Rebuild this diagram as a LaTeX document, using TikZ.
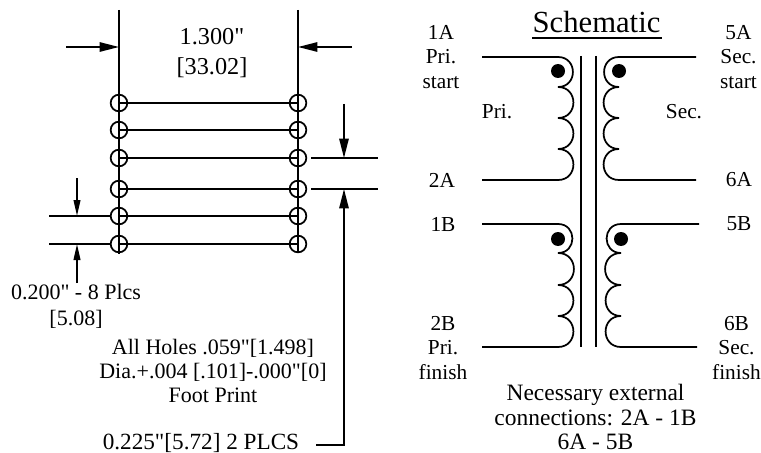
\documentclass[tikz,border=0pt]{standalone}
\usepackage{fontspec}
\setmainfont{Liberation Serif}[Ligatures=TeXOff]
\usetikzlibrary{arrows.meta}

\begin{document}
\begin{tikzpicture}[x=0.75pt, y=-0.75pt, line width=1.3pt,
    every node/.style={inner sep=0pt, align=center, font=\fontsize{16}{18.4}\selectfont},
    hole/.style={draw, circle, minimum size=12.5pt},
    dimlabel/.style={font=\fontsize{18.2}{22.5}\selectfont},
    notelabel/.style={font=\fontsize{16.5}{17.8}\selectfont},
    bump/.style={out=0, in=0, looseness=1.7},
    bumpleft/.style={out=180, in=180, looseness=1.7},
    bigdim/.style={-{Triangle[length=14.5pt, width=7pt]}},
    smalldim/.style={-{Triangle[length=12pt, width=5pt]}}]
    \useasboundingbox (0,0) rectangle (761,453);

    % Foot print holes
    \node[hole] (L1) at (119,103) {};
    \node[hole] (L2) at (119,130) {};
    \node[hole] (L3) at (119,158) {};
    \node[hole] (L4) at (119,189) {};
    \node[hole] (L5) at (119,216) {};
    \node[hole] (L6) at (119,244) {};
    \node[hole] (R1) at (298,103) {};
    \node[hole] (R2) at (298,130) {};
    \node[hole] (R3) at (298,158) {};
    \node[hole] (R4) at (298,189) {};
    \node[hole] (R5) at (298,216) {};
    \node[hole] (R6) at (298,244) {};

    % Hole rows
    \draw (L1.center) -- (R1.center);
    \draw (L2.center) -- (R2.center);
    \draw (L3.center) -- (R3.center);
    \draw (L4.center) -- (R4.center);
    \draw (L5.center) -- (R5.center);
    \draw (L6.center) -- (R6.center);

    % Extension lines
    \coordinate (LTop) at (119,10);
    \coordinate (LBot) at (119,254);
    \coordinate (RTop) at (298,10);
    \coordinate (RBot) at (298,253);
    \coordinate (Ext3) at (378,158);
    \coordinate (Ext4) at (378,189);
    \coordinate (Ext5) at (49,216);
    \coordinate (Ext6) at (49,244);
    \draw (LTop) -- (LBot);
    \draw (RTop) -- (RBot);
    \draw (R3.east) ++(4,0) -- (Ext3);
    \draw (R4.east) ++(4,0) -- (Ext4);
    \draw (Ext5) -- (L5.west);
    \draw (Ext6) -- (L6.west);

    % Dimension arrows
    \coordinate (WidthL) at (66,47);
    \coordinate (WidthLEnd) at (119,47);
    \coordinate (WidthR) at (352,47);
    \coordinate (WidthREnd) at (298,47);
    \coordinate (PitchTop) at (77,178);
    \coordinate (PitchTopEnd) at (77,216);
    \coordinate (PitchBot) at (77,283);
    \coordinate (PitchBotEnd) at (77,244);
    \coordinate (GapTop) at (344,104);
    \coordinate (GapTopEnd) at (344,158);
    \coordinate (GapCorner) at (344,445);
    \coordinate (GapEnd) at (344,189);
    \coordinate (GapStart) at (316,445);
    \draw[bigdim] (WidthL) -- (WidthLEnd);
    \draw[bigdim] (WidthR) -- (WidthREnd);
    \draw[smalldim] (PitchTop) -- (PitchTopEnd);
    \draw[smalldim] (PitchBot) -- (PitchBotEnd);
    \draw[bigdim] (GapTop) -- (GapTopEnd);
    \draw[bigdim] (GapStart) -- (GapCorner) -- (GapEnd);

    % Foot print labels
    \node[dimlabel] (Width) at (212,53) {1.300"\\{}[33.02]};
    \node[notelabel, font=\fontsize{16.5}{19.5}\selectfont] (Pitch) at (76,306) {0.200" - 8 Plcs\\{}[5.08]};
    \node[notelabel] (Holes) at (213,371) {All Holes .059"[1.498]\\Dia.+.004 [.101]-.000"[0]\\Foot Print};
    \node[notelabel, anchor=east, font=\fontsize{17.4}{19}\selectfont] (Gap) at (300,443) {0.225"[5.72] 2 PLCS};

    % Core
    \node[font=\fontsize{23}{25}\selectfont] (Title) at (596.5,22) {Schematic};
    \coordinate (TitleL) at (532,38);
    \coordinate (TitleR) at (662,38);
    \coordinate (CoreLTop) at (581,56);
    \coordinate (CoreLBot) at (581,347);
    \coordinate (CoreRTop) at (596,56);
    \coordinate (CoreRBot) at (596,347);
    \draw (TitleL) -- (TitleR);
    \draw (CoreLTop) -- (CoreLBot);
    \draw (CoreRTop) -- (CoreRBot);

    % Primary A
    \coordinate (PA0) at (482,57);
    \coordinate (PA1) at (558,57);
    \coordinate (PA2) at (558,87);
    \coordinate (PA3) at (558,118);
    \coordinate (PA4) at (558,149);
    \coordinate (PA5) at (558,180);
    \coordinate (PA6) at (482,180);
    \draw (PA0) -- (PA1) to[bump] (PA2) to[bump] (PA3) to[bump] (PA4) to[bump] (PA5) -- (PA6);

    % Secondary A
    \coordinate (SA0) at (696,57);
    \coordinate (SA1) at (619,57);
    \coordinate (SA2) at (619,87);
    \coordinate (SA3) at (619,118);
    \coordinate (SA4) at (619,149);
    \coordinate (SA5) at (619,180);
    \coordinate (SA6) at (696,180);
    \draw (SA0) -- (SA1) to[bumpleft] (SA2) to[bumpleft] (SA3) to[bumpleft] (SA4) to[bumpleft] (SA5) -- (SA6);

    % Primary B
    \coordinate (PB0) at (482,224);
    \coordinate (PB1) at (558,224);
    \coordinate (PB2) at (558,253);
    \coordinate (PB3) at (558,285);
    \coordinate (PB4) at (558,316);
    \coordinate (PB5) at (558,347);
    \coordinate (PB6) at (482,347);
    \draw (PB0) -- (PB1) to[bump] (PB2) to[bump] (PB3) to[bump] (PB4) to[bump] (PB5) -- (PB6);

    % Secondary B
    \coordinate (SB0) at (699,224);
    \coordinate (SB1) at (621,224);
    \coordinate (SB2) at (621,253);
    \coordinate (SB3) at (621,285);
    \coordinate (SB4) at (621,316);
    \coordinate (SB5) at (621,347);
    \coordinate (SB6) at (697,347);
    \draw (SB0) -- (SB1) to[bumpleft] (SB2) to[bumpleft] (SB3) to[bumpleft] (SB4) to[bumpleft] (SB5) -- (SB6);

    % Polarity dots
    \fill (558,71) circle (7);
    \fill (619,71) circle (7);
    \fill (558,239) circle (7);
    \fill (621,239) circle (7);

    % Winding labels
    \node (PriA) at (441,57) {1A\\Pri.\\start};
    \node (SecA) at (738.5,57) {5A\\Sec.\\start};
    \node (PriMid) at (497,112) {Pri.};
    \node (SecMid) at (684,112) {Sec.};
    \node (TwoA) at (442,180) {2A};
    \node (SixA) at (739,180) {6A};
    \node (OneB) at (443,224) {1B};
    \node (FiveB) at (739,224) {5B};
    \node (PriB) at (443,348) {2B\\Pri.\\finish};
    \node (SecB) at (736.5,348) {6B\\Sec.\\finish};
    \node[font=\fontsize{17.6}{18.6}\selectfont] (Note) at (595.5,417) {Necessary external\\connections: 2A - 1B\\6A - 5B};
\end{tikzpicture}
\end{document}
